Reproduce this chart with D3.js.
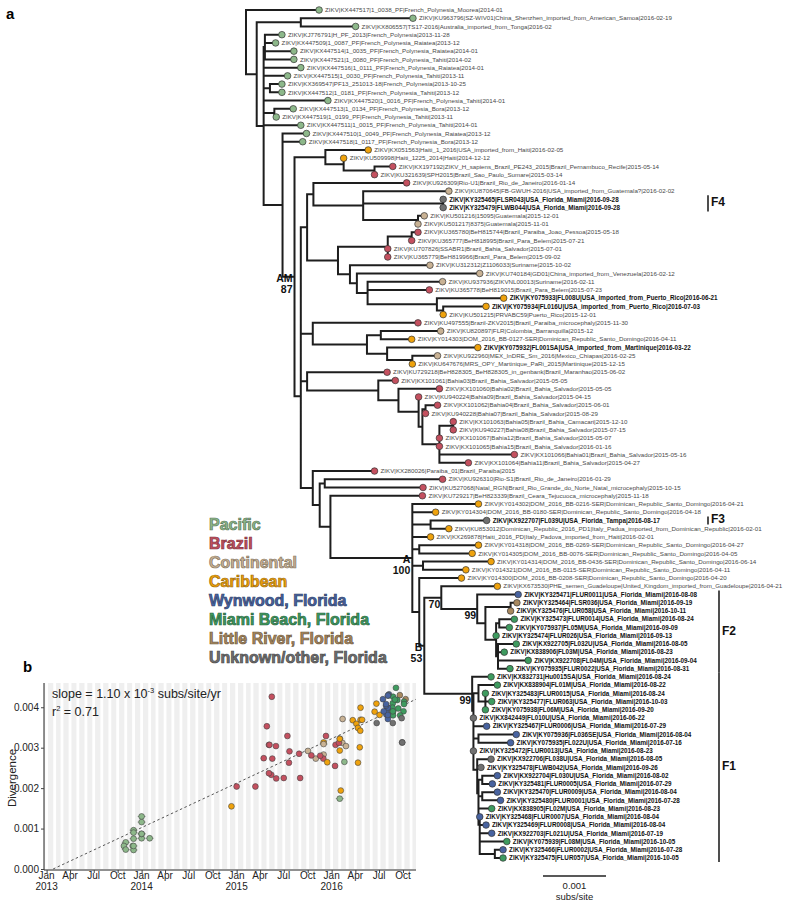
<!DOCTYPE html>
<html><head><meta charset="utf-8">
<script src="https://cdn.jsdelivr.net/npm/d3@7"></script>
<style>body{margin:0;background:#fff}svg{display:block}</style>
</head><body><svg id="c" width="800" height="908"></svg>
<script>
// ---------------- DATA ----------------
const tipLabels = [
"ZIKV|KX447517|1_0038_PF|French_Polynesia_Moorea|2014-01",
"ZIKV|KU963796|SZ-WIV01|China_Shenzhen_imported_from_American_Samoa|2016-02-19",
"ZIKV|KX806557|TS17-2016|Australia_imported_from_Tonga|2016-02",
"ZIKV|KJ776791|H_PF_2013|French_Polynesia|2013-11-28",
"ZIKV|KX447509|1_0087_PF|French_Polynesia_Raiatea|2013-12",
"ZIKV|KX447514|1_0035_PF|French_Polynesia_Raiatea|2014-01",
"ZIKV|KX447521|1_0080_PF|French_Polynesia_Tahiti|2014-02",
"ZIKV|KX447516|1_0111_PF|French_Polynesia_Raiatea|2014-01",
"ZIKV|KX447515|1_0030_PF|French_Polynesia_Tahiti|2013-11",
"ZIKV|KX369547|PF13_251013-18|French_Polynesia|2013-10-25",
"ZIKV|KX447512|1_0181_PF|French_Polynesia_Tahiti|2013-12",
"ZIKV|KX447520|1_0016_PF|French_Polynesia_Tahiti|2014-01",
"ZIKV|KX447513|1_0134_PF|French_Polynesia_Bora|2013-12",
"ZIKV|KX447519|1_0199_PF|French_Polynesia_Tahiti|2013-11",
"ZIKV|KX447511|1_0015_PF|French_Polynesia_Tahiti|2014-01",
"ZIKV|KX447510|1_0049_PF|French_Polynesia_Raiatea|2013-12",
"ZIKV|KX447518|1_0117_PF|French_Polynesia_Bora|2013-12",
"ZIKV|KX051563|Haiti_1_2016|USA_imported_from_Haiti|2016-02-05",
"ZIKV|KU509998|Haiti_1225_2014|Haiti|2014-12-12",
"ZIKV|KX197192|ZIKV_H_sapiens_Brazil_PE243_2015|Brazil_Pernambuco_Recife|2015-05-14",
"ZIKV|KU321639|SPH2015|Brazil_Sao_Paulo_Sumare|2015-03-14",
"ZIKV|KU926309|Rio-U1|Brazil_Rio_de_Janeiro|2016-01-14",
"ZIKV|KU870645|FB-GWUH-2016|USA_imported_from_Guatemala?|2016-02-02",
"ZIKV|KY325465|FLSR043|USA_Florida_Miami|2016-09-28",
"ZIKV|KY325479|FLWB044|USA_Florida_Miami|2016-09-28",
"ZIKV|KU501216|15095|Guatemala|2015-12-01",
"ZIKV|KU501217|8375|Guatemala|2015-11-01",
"ZIKV|KU365780|BeH815744|Brazil_Paraiba_Joao_Pessoa|2015-05-18",
"ZIKV|KU365777|BeH818995|Brazil_Para_Belem|2015-07-21",
"ZIKV|KU707826|SSABR1|Brazil_Bahia_Salvador|2015-07-01",
"ZIKV|KU365779|BeH819966|Brazil_Para_Belem|2015-09-02",
"ZIKV|KU312312|Z1106033|Suriname|2015-10-02",
"ZIKV|KU740184|GD01|China_imported_from_Venezuela|2016-02-12",
"ZIKV|KU937936|ZIKVNL00013|Suriname|2016-02-11",
"ZIKV|KU365778|BeH819015|Brazil_Para_Belem|2015-07-23",
"ZIKV|KY075933|FL008U|USA_imported_from_Puerto_Rico|2016-06-21",
"ZIKV|KY075934|FL016U|USA_imported_from_Puerto_Rico|2016-07-03",
"ZIKV|KU501215|PRVABC59|Puerto_Rico|2015-12-01",
"ZIKV|KU497555|Brazil-ZKV2015|Brazil_Paraiba_microcephaly|2015-11-30",
"ZIKV|KU820897|FLR|Colombia_Barranquilla|2015-12",
"ZIKV|KY014303|DOM_2016_BB-0127-SER|Dominican_Republic_Santo_Domingo|2016-04-11",
"ZIKV|KY075932|FL001SA|USA_imported_from_Martinique|2016-03-22",
"ZIKV|KU922960|MEX_InDRE_Sm_2016|Mexico_Chiapas|2016-02-25",
"ZIKV|KU647676|MRS_OPY_Martinique_PaRi_2015|Martinique|2015-12-15",
"ZIKV|KU729218|BeH828305_BeH828305_in_genbank|Brazil_Maranhao|2015-06-02",
"ZIKV|KX101061|Bahia03|Brazil_Bahia_Salvador|2015-05-05",
"ZIKV|KX101060|Bahia02|Brazil_Bahia_Salvador|2015-05-05",
"ZIKV|KU940224|Bahia09|Brazil_Bahia_Salvador|2015-04-15",
"ZIKV|KX101062|Bahia04|Brazil_Bahia_Salvador|2015-06-01",
"ZIKV|KU940228|Bahia07|Brazil_Bahia_Salvador|2015-08-29",
"ZIKV|KX101063|Bahia05|Brazil_Bahia_Camacari|2015-12-10",
"ZIKV|KU940227|Bahia08|Brazil_Bahia_Salvador|2015-07-15",
"ZIKV|KX101067|Bahia12|Brazil_Bahia_Salvador|2015-05-07",
"ZIKV|KX101065|Bahia15|Brazil_Bahia_Salvador|2016-01-16",
"ZIKV|KX101066|Bahia01|Brazil_Bahia_Salvador|2015-05-16",
"ZIKV|KX101064|Bahia11|Brazil_Bahia_Salvador|2015-04-27",
"ZIKV|KX280026|Paraiba_01|Brazil_Paraiba|2015",
"ZIKV|KU926310|Rio-S1|Brazil_Rio_de_Janeiro|2016-01-29",
"ZIKV|KU527068|Natal_RGN|Brazil_Rio_Grande_do_Norte_Natal_microcephaly|2015-10-15",
"ZIKV|KU729217|BeH823339|Brazil_Ceara_Tejucuoca_microcephaly|2015-11-18",
"ZIKV|KY014302|DOM_2016_BB-0216-SER|Dominican_Republic_Santo_Domingo|2016-04-21",
"ZIKV|KY014304|DOM_2016_BB-0180-SER|Dominican_Republic_Santo_Domingo|2016-04-18",
"ZIKV|KX922707|FL039U|USA_Florida_Tampa|2016-08-17",
"ZIKV|KU853012|Dominican_Republic_2016_PD1|Italy_Padua_imported_from_Dominican_Republic|2016-02-01",
"ZIKV|KX269878|Haiti_2016_PD|Italy_Padova_imported_from_Haiti|2016-02-01",
"ZIKV|KY014318|DOM_2016_BB-0269-SER|Dominican_Republic_Santo_Domingo|2016-04-27",
"ZIKV|KY014305|DOM_2016_BB-0076-SER|Dominican_Republic_Santo_Domingo|2016-04-05",
"ZIKV|KY014314|DOM_2016_BB-0436-SER|Dominican_Republic_Santo_Domingo|2016-06-14",
"ZIKV|KY014321|DOM_2016_BB-0115-SER|Dominican_Republic_Santo_Domingo|2016-04-11",
"ZIKV|KY014300|DOM_2016_BB-0208-SER|Dominican_Republic_Santo_Domingo|2016-04-20",
"ZIKV|KX673530|PHE_semen_Guadeloupe|United_Kingdom_imported_from_Guadeloupe|2016-04-21",
"ZIKV|KY325471|FLUR0011|USA_Florida_Miami|2016-08-08",
"ZIKV|KY325464|FLSR036|USA_Florida_Miami|2016-09-19",
"ZIKV|KY325476|FLUR058|USA_Florida_Miami|2016-10-11",
"ZIKV|KY325473|FLUR0014|USA_Florida_Miami|2016-08-24",
"ZIKV|KY075937|FL05M|USA_Florida_Miami|2016-09-09",
"ZIKV|KY325474|FLUR026|USA_Florida_Miami|2016-09-13",
"ZIKV|KX922705|FL032U|USA_Florida_Miami|2016-08-05",
"ZIKV|KX838906|FL03M|USA_Florida_Miami|2016-08-23",
"ZIKV|KX922708|FL04M|USA_Florida_Miami|2016-09-04",
"ZIKV|KY075935|FLUR0022|USA_Florida_Miami|2016-08-31",
"ZIKV|KX832731|Hu0015SA|USA_Florida_Miami|2016-08-24",
"ZIKV|KX838904|FL01M|USA_Florida_Miami|2016-08-22",
"ZIKV|KY325483|FLUR0015|USA_Florida_Miami|2016-08-24",
"ZIKV|KY325477|FLUR063|USA_Florida_Miami|2016-10-03",
"ZIKV|KY075938|FL06M|USA_Florida_Miami|2016-09-20",
"ZIKV|KX842449|FL010U|USA_Florida_Miami|2016-06-22",
"ZIKV|KY325467|FLUR0006|USA_Florida_Miami|2016-07-29",
"ZIKV|KY075936|FL036SE|USA_Florida_Miami|2016-08-04",
"ZIKV|KY075935|FL022U|USA_Florida_Miami|2016-07-16",
"ZIKV|KY325472|FLUR0013|USA_Florida_Miami|2016-08-23",
"ZIKV|KX922706|FL038U|USA_Florida_Miami|2016-08-05",
"ZIKV|KY325478|FLWB042|USA_Florida_Miami|2016-09-26",
"ZIKV|KX922704|FL030U|USA_Florida_Miami|2016-08-02",
"ZIKV|KY325481|FLUR0005|USA_Florida_Miami|2016-07-29",
"ZIKV|KY325470|FLUR0009|USA_Florida_Miami|2016-08-04",
"ZIKV|KY325480|FLUR0001|USA_Florida_Miami|2016-07-28",
"ZIKV|KX838905|FL02M|USA_Florida_Miami|2016-08-23",
"ZIKV|KY325468|FLUR0007|USA_Florida_Miami|2016-08-04",
"ZIKV|KY325469|FLUR0008|USA_Florida_Miami|2016-08-04",
"ZIKV|KX922703|FL021U|USA_Florida_Miami|2016-07-19",
"ZIKV|KY075939|FL08M|USA_Florida_Miami|2016-10-05",
"ZIKV|KY325466|FLUR0002|USA_Florida_Miami|2016-07-28",
"ZIKV|KY325475|FLUR057|USA_Florida_Miami|2016-10-05"
];
// region code of each tip (P Pacific, B Brazil, C Continental, K Caribbean, W Wynwood, M Miami Beach, L Little River, U Unknown)
const tipRegion = ("PPPPPPPPPPPPPPPPP" + "KKBBBCUUCC" + "BBBBCCCBKK" + "KBCKKCKB" +
  "BBBBBBBBBBBBBBB" + "KKU" + "KKKKKKKK" + "WLL" + "MMMMMMMMMMMM" + "UWWWUUUWWWWMWWWMWM").split("");
const boldTips = [24,25,36,37,42,63,72,73,74,75,76,77,78,79,80,81,82,83,84,85,86,87,88,89,90,
  91,92,93,94,95,96,97,98,99,100,101,102,103,104];

const regionCodes  = ["P","B","C","K","W","M","L","U"];
const regionNames  = ["Pacific","Brazil","Continental","Caribbean","Wynwood, Florida","Miami Beach, Florida","Little River, Florida","Unknown/other, Florida"];
const regionColors = ["#8db88a","#c4505f","#c9b294","#efa20c","#4863a0","#3e9b5f","#a8885e","#707070"];

// tree topology: node -> [child, branch length in 1e-5 subs/site]; numbers are tips
const BL_UNIT = 1e-5;
const treeEdges = {
  R:[[1,116],["N1",17]],
  N1:[["Nc",70],["NP",11]],
  Nc:[[2,178],[3,87]],
  NP:[["NA",2],[8,59],[9,38],["NB",10],[12,102],["ND",17],[15,59],["NE",30]],
  NA:[[4,27],[5,17],[6,46],[7,46]],
  NB:[[10,19],[11,19]],
  ND:[[13,30],[14,3]],
  NE:[[16,38],[17,32],["AM",19]],
  AM:[["HG",49],["Q1",10]],
  HG:[[18,68],["HG2",29]],
  HG2:[[19,0],["HB",49]],
  HB:[[20,29],[21,0]],
  Q1:[["Q0",0],["P",19]],
  Q0:[["R2",10],["K",19],["BA",10]],
  R2:[["R1",10],["C1",49]],
  R1:[[22,148],["G1",79]],
  G1:[[23,136],["GF4",127],["GG",87]],
  GF4:[[24,0],[25,0]],
  GG:[[26,10],[27,0]],
  C1:[["B1",79],["C2",19]],
  B1:[["BN",38],[30,0],[31,0]],
  BN:[[28,10],[29,0]],
  C2:[[32,127],["C3",11]],
  C3:[[33,195],["C4",17]],
  C4:[[34,119],[35,98],["C5",110]],
  C5:[[36,106],["C6",10]],
  C6:[[37,68],[38,0]],
  K:[[39,167],["K2",86]],
  K2:[["K3",22],["K4",32]],
  K3:[[40,95],[41,49]],
  K4:[[42,144],["K5",40]],
  K5:[[43,40],[44,0]],
  BA:[[45,127],["BB",113]],
  BB:[[46,27],["BC",32]],
  BC:[[47,65],["BD",32]],
  BD:[[48,0],["BE",6]],
  BE:[["BF",5],["BG",27]],
  BF:[[49,19],[50,0]],
  BG:[["BH",22],[53,0],[54,0],[55,119],[56,46]],
  BH:[[51,0],[52,0]],
  P:[[57,98],["P2",11]],
  P2:[["P3",8],["P4",17]],
  P3:[[58,187],[59,156]],
  P4:[[60,146],["A",130]],
  A:[[61,105],[62,37],["AF3",29],[65,29],["A1",11],["A2",17],["AX",11]],
  AF3:[[63,89],[64,29]],
  A1:[[66,94],[67,84]],
  A2:[[68,108],[69,68]],
  AX:[[70,67],["B",8]],
  B:[["N70",27],["F1",76]],
  N70:[[71,89],["F2",57]],
  F2:[[72,65],["F2b",13]],
  F2b:[["N512",40],["F2c",17]],
  N512:[[73,10],[74,0]],
  F2c:[["N500",5],[77,0],["N499",3]],
  N500:[[75,24],[76,16]],
  N499:[[78,29],[79,10],[80,48],[81,19]],
  F1:[[82,30],["L1",2]],
  L1:[["F1a",8],["L2",0]],
  F1a:[[83,30],["N486",11]],
  N486:[[84,0],[85,10],[86,0]],
  L2:[[87,0],["L3",0]],
  L3:[[88,21],["L4",0]],
  L4:[["N479",8],["L5",0]],
  N479:[[89,60],[90,51]],
  L5:[[91,0],["L6",6]],
  L6:[[92,22],["L7",0]],
  L7:[[93,6],["L8",2]],
  L8:[["N483a",6],["L9",0]],
  N483a:[[94,24],[95,16]],
  L9:[["N483b",6],["L10",0]],
  N483b:[[96,24],[97,29]],
  L10:[[98,21],["L11",2]],
  L11:[[99,0],["L12",0]],
  L12:[[100,10],["L13",0]],
  L13:[[101,19],["L14",0]],
  L14:[[102,43],["N495",24]],
  N495:[[103,13],[104,13]]
};
const supportLabels = [
  {node:"AM", lines:["AM","87"]},
  {node:"A",  lines:["A","100"]},
  {node:"B",  lines:["B","53"]},
  {node:"N70",lines:["70"]},
  {node:"F2", lines:["99"]},
  {node:"F1", lines:["99"]}
];
const cladeBars = [
  {name:"F4", first:24, last:25, col:0},
  {name:"F3", first:63, last:63, col:0},
  {name:"F2", first:72, last:81, col:1},
  {name:"F1", first:82, last:104, col:1}
];
const scaleBarValue = 0.001;

// panel b
const yTickValues = [0, 0.001, 0.002, 0.003, 0.004];
const slopePerYear = 0.00110;
const regressionZeroDate = "2013-01-26";
const rSquared = "0.71";

// ---------------- DRAW ----------------
const FONT = "'Liberation Sans', Arial, Helvetica, sans-serif";
const svg = d3.select("#c").attr("font-family", FONT);
const colorOf = c => regionColors[regionCodes.indexOf(c)];

function build(id){
  if (typeof id === "number") return {tip:id};
  return {name:id, children: treeEdges[id].map(([c,len]) => { const n = build(c); n.len = len; return n; })};
}
const rootData = build("R"); rootData.len = 0;
const root = d3.hierarchy(rootData);
root.eachBefore(n => { n.div = n.parent ? n.parent.div + n.data.len * BL_UNIT : 0; });
const leaves = root.leaves();
const xT = d3.scaleLinear().domain([0, 0.001]).range([246, 309]);
const yT = d3.scaleLinear().domain([0, leaves.length - 1]).range([10, 858]);
leaves.forEach((l, i) => { l.py = yT(i); });
root.eachAfter(n => { if (n.children) n.py = (n.children[0].py + n.children[n.children.length-1].py) / 2; });
root.each(n => { n.px = xT(n.div); });
const byName = {}; root.each(n => { if (n.data.name) byName[n.data.name] = n; });

svg.append("text").attr("x", 6).attr("y", 19).attr("font-size", 15).attr("font-weight", "bold").text("a");

// branches
let d = "";
root.descendants().forEach(n => {
  if (n.parent) d += `M${n.parent.px},${n.py}H${n.px}`;
  if (n.children) d += `M${n.px},${n.children[0].py}V${n.children[n.children.length-1].py}`;
});
const tg = svg.append("g");
tg.append("path").attr("d", d).attr("fill", "none").attr("stroke", "#1e1e1e")
  .attr("stroke-width", 2).attr("stroke-linecap", "square");

// tips
leaves.forEach(l => {
  const t = l.data.tip;
  const bold = boldTips.includes(t);
  tg.append("circle").attr("cx", l.px).attr("cy", l.py).attr("r", 3.3)
    .attr("fill", colorOf(tipRegion[t-1])).attr("stroke", "#333").attr("stroke-width", 0.7);
  tg.append("text").attr("x", l.px + 6).attr("y", l.py).attr("dy", "0.35em")
    .attr("font-size", bold ? 6.3 : 6.2).attr("font-weight", bold ? "bold" : "normal")
    .attr("fill", bold ? "#111" : "#4a4a4a").text(tipLabels[t-1]);
});

// support labels
supportLabels.forEach(s => {
  const n = byName[s.node];
  if (s.lines.length === 1) {
    tg.append("text").attr("text-anchor", "end").attr("font-size", 10.5).attr("font-weight", "bold").attr("fill", "#111")
      .attr("x", n.px - 1).attr("y", n.py + 10).text(s.lines[0]);
  } else {
    s.lines.forEach((ln, i) => tg.append("text").attr("text-anchor", "end").attr("font-size", 10.5)
      .attr("font-weight", "bold").attr("fill", "#111")
      .attr("x", n.px - 2).attr("y", n.py + 5 + i * 11).text(ln));
  }
});

// clade bars
const barX = [708, 719];
cladeBars.forEach(c => {
  const y0 = yT(c.first - 1) - 4, y1 = yT(c.last - 1) + 4;
  tg.append("line").attr("x1", barX[c.col]).attr("x2", barX[c.col]).attr("y1", y0).attr("y2", y1)
    .attr("stroke", "#222").attr("stroke-width", 1.6);
  tg.append("text").attr("x", barX[c.col] + 3).attr("y", (y0 + y1) / 2 + 3)
    .attr("font-size", 12).attr("font-weight", "bold").attr("fill", "#111").text(c.name);
});

// scale bar
const sbX = 543, sbY = 876, sbW = xT(scaleBarValue) - xT(0);
tg.append("line").attr("x1", sbX).attr("x2", sbX + sbW).attr("y1", sbY).attr("y2", sbY)
  .attr("stroke", "#222").attr("stroke-width", 1.6);
tg.append("text").attr("x", sbX + sbW / 2).attr("y", 889).attr("text-anchor", "middle")
  .attr("font-size", 9.5).attr("fill", "#222").text(d3.format(".3f")(scaleBarValue));
tg.append("text").attr("x", sbX + sbW / 2).attr("y", 900).attr("text-anchor", "middle")
  .attr("font-size", 9.5).attr("fill", "#222").text("subs/site");

// legend
const lg = svg.append("g");
regionNames.forEach((nm, i) => {
  const c = regionColors[i];
  lg.append("text").attr("x", 209).attr("y", 530 + i * 19).attr("font-size", 16).attr("font-weight", "bold")
    .attr("fill", c).attr("stroke", d3.color(c).darker(1.2)).attr("stroke-width", 0.7).text(nm);
});

// ---------------- PANEL B ----------------
svg.append("text").attr("x", 23).attr("y", 672).attr("font-size", 15).attr("font-weight", "bold").text("b");

function parseTipDate(s){
  const p = s.split("-");
  return {date: new Date(+p[0], p.length > 1 ? +p[1] - 1 : 0, p.length > 2 ? +p[2] : 1), prec: p.length};
}
const pts = leaves.map(l => {
  const t = l.data.tip, lab = tipLabels[t-1];
  const dt = parseTipDate(lab.split("|").pop());
  return {tip:t, region: tipRegion[t-1], date: dt.date, prec: dt.prec, div: l.div};
});

const xS = d3.scaleTime().domain([new Date(2012, 11, 22), new Date(2016, 10, 20)]).range([44, 416]);
const yS = d3.scaleLinear().domain([0, 0.0046]).range([869, 683]);
const bg = svg.append("g");
d3.timeMonth.range(new Date(2012, 11, 1), new Date(2016, 11, 1)).forEach(m => {
  const x0 = Math.max(44, xS(m) + 1.4), x1 = Math.min(416, xS(d3.timeMonth.offset(m, 1)) - 1.4);
  if (x1 > x0) bg.append("rect").attr("x", x0).attr("width", x1 - x0).attr("y", yS.range()[1])
    .attr("height", yS.range()[0] - yS.range()[1]).attr("fill", "#efefef");
});

const yAx = svg.append("g").attr("transform", "translate(44,0)")
  .call(d3.axisLeft(yS).tickValues(yTickValues).tickFormat(d3.format(".3f")).tickSize(3).tickPadding(2));
yAx.select(".domain").attr("d", `M0,${yS.range()[1]}V${yS.range()[0] + 1}`).attr("stroke", "#222");
yAx.selectAll("text").attr("font-size", 10).attr("font-family", FONT).attr("fill", "#222");
yAx.selectAll("line").attr("stroke", "#444");

const months = d3.timeMonth.range(new Date(2013, 0, 1), new Date(2016, 10, 1), 3);
const xAx = svg.append("g").attr("transform", "translate(0,870)")
  .call(d3.axisBottom(xS).tickValues(months).tickFormat("").tickSize(3));
xAx.select(".domain").attr("d", "M44,0H416").attr("stroke", "#222");
xAx.selectAll("line").attr("stroke", "#444");
const fmtM = d3.timeFormat("%b");
months.forEach(m => {
  svg.append("text").attr("x", xS(m)).attr("y", 878.5).attr("text-anchor", "middle")
    .attr("font-size", 10).attr("fill", "#222").text(fmtM(m));
  if (m.getMonth() === 0) svg.append("text").attr("x", xS(m)).attr("y", 890).attr("text-anchor", "middle")
    .attr("font-size", 10).attr("fill", "#222").text(m.getFullYear());
});

svg.append("text").attr("transform", `translate(12,${(yS.range()[0] + yS.range()[1]) / 2 + 2}) rotate(-90)`)
  .attr("dy", "0.35em").attr("text-anchor", "middle").attr("font-size", 11.5).attr("fill", "#222").text("Divergence");

// regression line
const z = d3.timeParse("%Y-%m-%d")(regressionZeroDate);
const end = xS.domain()[1];
const yrs = (end - z) / (365.25 * 864e5);
svg.append("line").attr("x1", xS(z)).attr("y1", yS(0)).attr("x2", xS(end)).attr("y2", yS(slopePerYear * yrs))
  .attr("stroke", "#555").attr("stroke-width", 1).attr("stroke-dasharray", "2.5,2.5");

const pg = svg.append("g");
pts.filter(p => p.prec === 2).forEach(p => {
  pg.append("line").attr("x1", xS(d3.timeDay.offset(p.date, -15))).attr("x2", xS(d3.timeDay.offset(p.date, 15)))
    .attr("y1", yS(p.div)).attr("y2", yS(p.div)).attr("stroke", "#8a9a88").attr("stroke-width", 1);
});
pts.forEach(p => {
  pg.append("circle").attr("cx", xS(p.date)).attr("cy", yS(p.div)).attr("r", 2.9)
    .attr("fill", colorOf(p.region)).attr("stroke", "#444").attr("stroke-width", 0.6);
});

const st = svg.append("text").attr("x", 52).attr("y", 698).attr("font-size", 12.5).attr("fill", "#222");
st.append("tspan").text("slope = 1.10 x 10");
st.append("tspan").attr("dy", -5).attr("font-size", 7.5).text("-3");
st.append("tspan").attr("dy", 5).text(" subs/site/yr");
const rt = svg.append("text").attr("x", 52).attr("y", 716).attr("font-size", 12.5).attr("fill", "#222");
rt.append("tspan").text("r");
rt.append("tspan").attr("dy", -5).attr("font-size", 7.5).text("2");
rt.append("tspan").attr("dy", 5).text(" = " + rSquared);
</script>
</body></html>
